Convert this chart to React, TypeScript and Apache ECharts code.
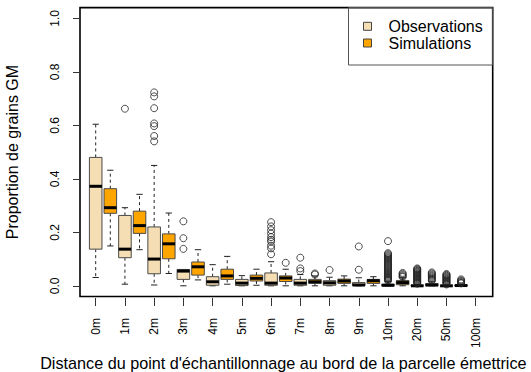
import React, { useEffect, useRef } from 'react';
import * as echarts from 'echarts';

// Distance categories (x axis)
const categories = ['0m', '1m', '2m', '3m', '4m', '5m', '6m', '7m', '8m', '9m', '10m', '20m', '50m', '100m'];

// Box statistics per category: [min, Q1, median, Q3, max]; null = no data
const obsStats: (number[] | null)[] = [
  [0.031, 0.137, 0.372, 0.48, 0.604],
  [0.006, 0.105, 0.137, 0.263, 0.292],
  [0.003, 0.045, 0.1, 0.22, 0.45],
  [0.0, 0.024, 0.055, 0.061, 0.061],
  [0.0, 0.002, 0.015, 0.034, 0.079],
  [0.0, 0.001, 0.01, 0.024, 0.038],
  [0.0, 0.002, 0.01, 0.048, 0.09],
  [0.0, 0.002, 0.01, 0.024, 0.042],
  [0.0, 0.002, 0.011, 0.019, 0.032],
  [0.0, 0.001, 0.003, 0.012, 0.03],
  [0.0, 0.0, 0.002, 0.006, 0.015],
  [0.0, 0.0, 0.0, 0.002, 0.005],
  [0.0, 0.0, 0.0, 0.001, 0.003],
  null,
];

const simStats: (number[] | null)[] = [
  [0.149, 0.271, 0.292, 0.363, 0.432],
  [0.135, 0.196, 0.225, 0.279, 0.342],
  [0.046, 0.101, 0.157, 0.194, 0.272],
  [0.022, 0.04, 0.071, 0.089, 0.135],
  [0.006, 0.024, 0.037, 0.062, 0.11],
  [0.002, 0.018, 0.028, 0.04, 0.062],
  [0.0, 0.016, 0.029, 0.037, 0.062],
  [0.0, 0.009, 0.015, 0.024, 0.037],
  [0.0, 0.009, 0.018, 0.025, 0.037],
  [0.0, 0.009, 0.019, 0.024, 0.034],
  [0.0, 0.004, 0.012, 0.02, 0.03],
  [0.0, 0.0, 0.003, 0.008, 0.015],
  [0.0, 0.0, 0.001, 0.003, 0.006],
  null,
];

// Outliers per category
const obsOutliers: number[][] = [
  [],
  [0.662],
  [0.723, 0.708, 0.664, 0.607, 0.597, 0.56, 0.54],
  [0.241, 0.178, 0.138],
  [],
  [],
  [0.238, 0.222, 0.208, 0.195, 0.182, 0.172, 0.165, 0.15, 0.14, 0.118],
  [0.105, 0.065, 0.055],
  [0.059],
  [0.147, 0.06],
  [0.167, 0.122, 0.118, 0.114, 0.11, 0.106, 0.102, 0.098, 0.094, 0.09, 0.086, 0.082, 0.078, 0.074, 0.07, 0.066, 0.062, 0.058, 0.054, 0.05, 0.046, 0.042, 0.038, 0.034, 0.031, 0.028, 0.025, 0.022, 0.019],
  [0.065, 0.062, 0.059, 0.056, 0.053, 0.05, 0.047, 0.044, 0.041, 0.038, 0.035, 0.032, 0.029, 0.026, 0.023, 0.02, 0.017, 0.014, 0.011, 0.008],
  [0.044, 0.041, 0.038, 0.035, 0.032, 0.029, 0.026, 0.023, 0.02, 0.017, 0.014, 0.011, 0.008, 0.005],
  [],
];

const simOutliers: number[][] = [
  [],
  [],
  [],
  [],
  [],
  [],
  [0.086],
  [0.046, 0.042],
  [],
  [],
  [0.048, 0.044, 0.04, 0.036, 0.033],
  [0.05, 0.046, 0.042, 0.038, 0.034, 0.03, 0.026, 0.022, 0.019],
  [0.024, 0.02, 0.017, 0.014, 0.011, 0.009],
  [],
];

const yTicks = [0, 0.2, 0.4, 0.6, 0.8, 1.0];

const OBS_COLOR = '#F5DEB3';
const SIM_COLOR = '#FFA500';
const SIM_SHIFT = 0.5;
const BOX_W = 0.43;
const FONT = 'Liberation Sans';

function boxData(stats: (number[] | null)[], shift: number) {
  const out: number[][] = [];
  stats.forEach((s, i) => {
    if (s) out.push([i + shift, ...s]);
  });
  return out;
}

function outlierData(list: number[][], shift: number) {
  const out: number[][] = [];
  list.forEach((vals, i) => vals.forEach((v) => out.push([i + shift, v])));
  return out;
}

function makeRenderItem(fill: string) {
  return (params: any, api: any) => {
    const x = api.value(0);
    const pMin = api.coord([x, api.value(1)]);
    const pQ1 = api.coord([x, api.value(2)]);
    const pMed = api.coord([x, api.value(3)]);
    const pQ3 = api.coord([x, api.value(4)]);
    const pMax = api.coord([x, api.value(5)]);
    const bw = api.size([BOX_W, 0])[0];
    const cx = pMin[0];
    const half = bw / 2;
    const st = bw / 4;
    const dash = { stroke: '#222', lineWidth: 1, lineDash: [3, 3], fill: null };
    const solid = { stroke: '#222', lineWidth: 1, fill: null };
    return {
      type: 'group',
      children: [
        { type: 'line', shape: { x1: cx, y1: pQ3[1], x2: cx, y2: pMax[1] }, style: dash },
        { type: 'line', shape: { x1: cx, y1: pQ1[1], x2: cx, y2: pMin[1] }, style: dash },
        { type: 'line', shape: { x1: cx - st, y1: pMax[1], x2: cx + st, y2: pMax[1] }, style: solid },
        { type: 'line', shape: { x1: cx - st, y1: pMin[1], x2: cx + st, y2: pMin[1] }, style: solid },
        {
          type: 'rect',
          shape: { x: cx - half, y: pQ3[1], width: bw, height: pQ1[1] - pQ3[1] },
          style: { fill, stroke: '#4a4a4a', lineWidth: 1 },
        },
        {
          type: 'line',
          shape: { x1: cx - half, y1: pMed[1], x2: cx + half, y2: pMed[1] },
          style: { stroke: '#000', lineWidth: 3, fill: null },
        },
      ],
    };
  };
}

export default function App() {
  const ref = useRef<HTMLDivElement>(null);
  useEffect(() => {
    document.body.style.margin = '0';
    const chart = echarts.init(ref.current!, null, { renderer: 'svg' });
    const xTicks = categories.map((_, i) => i);
    const scatterStyle = {
      color: 'rgba(0,0,0,0)',
      borderColor: '#222',
      borderWidth: 1,
    };
    const option: any = {
      animation: false,
      textStyle: { fontFamily: FONT },
      grid: {
        left: 80,
        right: 38.3,
        top: 7.6,
        bottom: 75.5,
        outerBoundsMode: 'none',
        containLabel: false,
        show: true,
        borderColor: '#000',
        borderWidth: 1.6,
        backgroundColor: 'transparent',
      },
      xAxis: {
        type: 'value',
        min: -0.537,
        max: 13.582,
        offset: 1.5,
        axisLine: { show: false, onZero: false },
        splitLine: { show: false },
        axisTick: { show: true, length: 8, customValues: xTicks, lineStyle: { color: '#333' } },
        axisLabel: {
          customValues: xTicks,
          formatter: (v: number) => categories[Math.round(v)] ?? '',
          rotate: 90,
          margin: 20,
          fontSize: 12,
          color: '#000',
          fontFamily: FONT,
        },
        name: "Distance du point d'échantillonnage au bord de la parcelle émettrice",
        nameLocation: 'middle',
        nameGap: 56.5,
        nameMoveOverlap: false,
        nameTextStyle: { fontSize: 16.2, color: '#000', lineHeight: 16, padding: [0, 6, 0, 0], fontFamily: FONT },
      },
      yAxis: {
        type: 'value',
        min: -0.04,
        max: 1.04,
        axisLine: { show: false, onZero: false },
        splitLine: { show: false },
        axisTick: { show: true, length: 7, customValues: yTicks, lineStyle: { color: '#333' } },
        axisLabel: {
          customValues: yTicks,
          formatter: (v: number) => v.toFixed(1),
          rotate: 90,
          margin: 19,
          fontSize: 12,
          lineHeight: 12,
          color: '#000',
          fontFamily: FONT,
        },
        name: 'Proportion de grains GM',
        nameLocation: 'middle',
        nameRotate: 90,
        nameGap: 59.5,
        nameMoveOverlap: false,
        nameTextStyle: { fontSize: 16, color: '#000', lineHeight: 16, fontFamily: FONT },
      },
      legend: {
        orient: 'vertical',
        left: 363,
        top: 18.3,
        itemWidth: 8,
        itemHeight: 8,
        itemGap: 0.7,
        icon: 'rect',
        selectedMode: false,
        padding: 0,
        itemStyle: { borderColor: '#444', borderWidth: 1 },
        textStyle: { fontSize: 16, color: '#000', lineHeight: 16, padding: [0, 0, 0, 12], fontFamily: FONT },
        data: [
          { name: 'Observations', itemStyle: { color: OBS_COLOR } },
          { name: 'Simulations', itemStyle: { color: SIM_COLOR } },
        ],
      },
      graphic: [
        {
          type: 'rect',
          shape: { x: 348.5, y: 7.6, width: 144.2, height: 57.4 },
          style: { fill: 'none', stroke: '#555', lineWidth: 1 },
          silent: true,
        },
      ],
      series: [
        {
          name: 'Observations',
          type: 'custom',
          renderItem: makeRenderItem(OBS_COLOR),
          itemStyle: { color: OBS_COLOR },
          encode: { x: 0, y: [1, 2, 3, 4, 5] },
          data: boxData(obsStats, 0),
          z: 2,
        },
        {
          name: 'Simulations',
          type: 'custom',
          renderItem: makeRenderItem(SIM_COLOR),
          itemStyle: { color: SIM_COLOR },
          encode: { x: 0, y: [1, 2, 3, 4, 5] },
          data: boxData(simStats, SIM_SHIFT),
          z: 2,
        },
        {
          name: 'obs-outliers',
          type: 'scatter',
          symbol: 'circle',
          symbolSize: 7,
          clip: false,
          itemStyle: scatterStyle,
          data: outlierData(obsOutliers, 0),
          z: 3,
        },
        {
          name: 'sim-outliers',
          type: 'scatter',
          symbol: 'circle',
          symbolSize: 7,
          clip: false,
          itemStyle: scatterStyle,
          data: outlierData(simOutliers, SIM_SHIFT),
          z: 3,
        },
      ],
    };
    chart.setOption(option);
    return () => chart.dispose();
  }, []);
  return <div ref={ref} style={{ width: 531, height: 372 }} />;
}
